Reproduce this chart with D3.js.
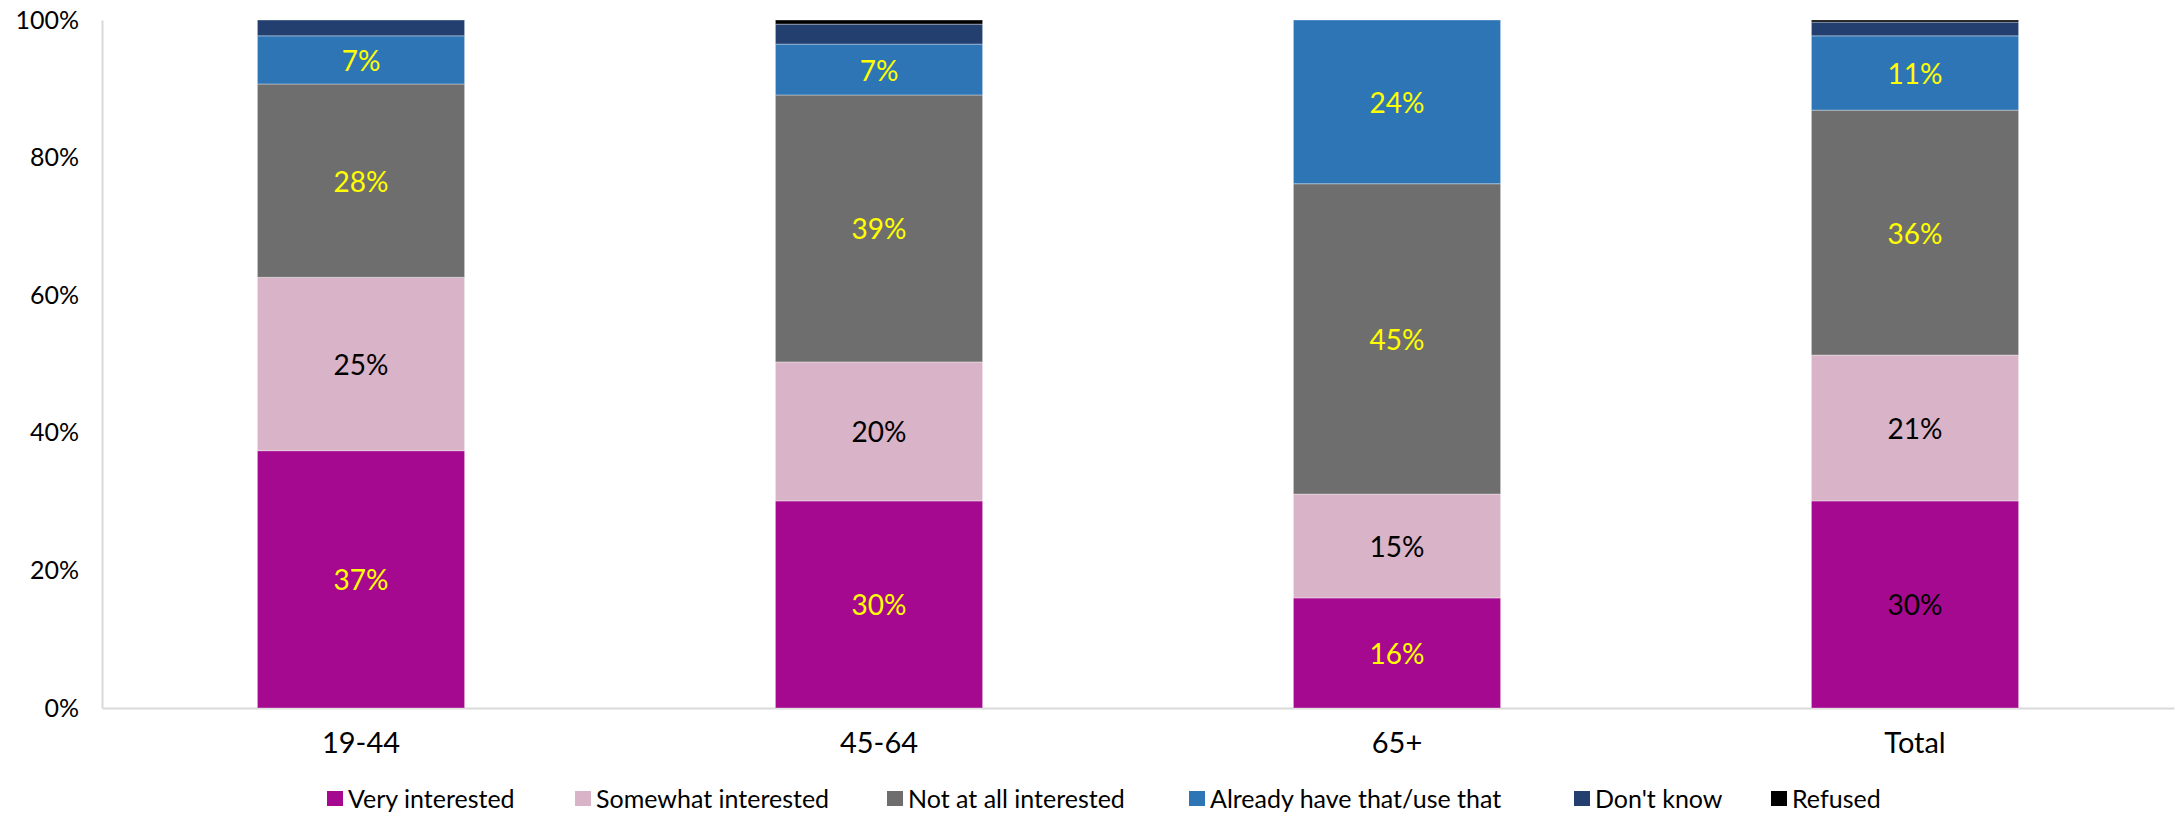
<!DOCTYPE html>
<html>
<head>
<meta charset="utf-8">
<script src="https://cdn.jsdelivr.net/npm/d3@7"></script>
<style>
    body { margin: 0; background: #ffffff; }
    svg text { font-family: Lato, "Noto Sans", sans-serif; }
</style>
</head>
<body>
<svg id="SVG_CONTAINER" width="2176" height="816"></svg>
<script>
// data (percent)
const categories = ["19-44", "45-64", "65+", "Total"];
const seriesNames = ["Very interested", "Somewhat interested", "Not at all interested",
    "Already have that/use that", "Don't know", "Refused"];
const veryInterested     = [37.4, 30.1, 16.0, 30.1];
const somewhatInterested = [25.2, 20.2, 15.1, 21.2];
const notAtAll           = [28.1, 38.8, 45.1, 35.6];
const alreadyHave        = [7.0, 7.4, 23.8, 10.8];
const dontKnow           = [2.3, 2.9, 0.0, 2.0];
const refused            = [0.0, 0.6, 0.0, 0.3];
const yTicks = [0, 20, 40, 60, 80, 100];

const MARGIN = { LEFT: 102, RIGHT: 2, TOP: 20, BOTTOM: 108 };
const width = 2176, height = 816;

const colours = ["#A5098F", "#D9B3C7", "#6E6E6E", "#2E75B6", "#223F70", "#000000"];
// label colour per series and category (null = no label)
const labelColours = [
    ["#FFFF00", "#FFFF00", "#FFFF00", "#000000"],
    ["#000000", "#000000", "#000000", "#000000"],
    ["#FFFF00", "#FFFF00", "#FFFF00", "#FFFF00"],
    ["#FFFF00", "#FFFF00", "#FFFF00", "#FFFF00"],
    null,
    null
];

let svg = d3.select("#SVG_CONTAINER");

let table = categories.map(function (c, i) {
    return {
        category: c,
        "Very interested": veryInterested[i],
        "Somewhat interested": somewhatInterested[i],
        "Not at all interested": notAtAll[i],
        "Already have that/use that": alreadyHave[i],
        "Don't know": dontKnow[i],
        "Refused": refused[i]
    };
});

let stacked = d3.stack().keys(seriesNames)(table);

//** SCALES *****************************************
let xScale = d3.scaleBand()
    .domain(categories)
    .range([MARGIN.LEFT, width - MARGIN.RIGHT])
    .paddingInner(0.6)
    .paddingOuter(0.3);

let yScale = d3.scaleLinear()
    .domain([0, 100])
    .range([height - MARGIN.BOTTOM, MARGIN.TOP]);

let colour = d3.scaleOrdinal().domain(seriesNames).range(colours);

//** AXES *****************************************
let yAxis = d3.axisLeft(yScale)
    .tickValues(yTicks)
    .tickSize(0)
    .tickPadding(23)
    .tickFormat(d => d + "%");

let yG = svg.append("g")
    .attr("class", "y_axis")
    .attr("transform", "translate(" + MARGIN.LEFT + ",0)")
    .call(yAxis);
yG.select(".domain").attr("stroke", "#d9d9d9").attr("stroke-width", 2);
yG.selectAll("text").attr("font-size", 25).attr("fill", "#000");

let xAxis = d3.axisBottom(xScale).tickSize(0).tickPadding(24);
let xG = svg.append("g")
    .attr("class", "x_axis")
    .attr("transform", "translate(0," + (height - MARGIN.BOTTOM) + ")")
    .call(xAxis);
xG.select(".domain").attr("stroke", "#d9d9d9").attr("stroke-width", 2);
xG.selectAll("text").attr("font-size", 29).attr("fill", "#000").attr("dy", "0.71em");

//** BARS *****************************************
let chart = svg.append("g").attr("class", "bars");

let layers = chart.selectAll("g.layer")
    .data(stacked)
    .enter()
    .append("g")
    .attr("class", "layer")
    .attr("fill", d => colour(d.key));

layers.selectAll("rect")
    .data(d => d)
    .enter()
    .append("rect")
    .attr("x", d => xScale(d.data.category))
    .attr("width", xScale.bandwidth())
    .attr("y", d => yScale(d[1]))
    .attr("height", d => yScale(d[0]) - yScale(d[1]))
    .attr("stroke", "rgba(255,255,255,0.35)")
    .attr("stroke-width", 1);

// data labels
stacked.forEach(function (layer, si) {
    if (!labelColours[si]) return;
    chart.append("g")
        .attr("class", "labels")
        .selectAll("text")
        .data(layer)
        .enter()
        .append("text")
        .attr("x", d => xScale(d.data.category) + xScale.bandwidth() / 2)
        .attr("y", d => (yScale(d[0]) + yScale(d[1])) / 2)
        .attr("text-anchor", "middle")
        .attr("dominant-baseline", "central")
        .attr("font-size", 28)
        .attr("fill", (d, i) => labelColours[si][i])
        .text(d => Math.round(d[1] - d[0]) + "%");
});

//** LEGEND *****************************************
// left edge of each legend swatch
const legendX = [327, 575, 887, 1189, 1574, 1771];
let legend = svg.append("g").attr("class", "legend");
let legendY = 798;
let items = legend.selectAll("g.item")
    .data(seriesNames)
    .enter()
    .append("g")
    .attr("class", "item")
    .attr("transform", (d, i) => "translate(" + legendX[i] + ",0)");

items.append("rect")
    .attr("x", 0)
    .attr("y", legendY - 7)
    .attr("width", 16)
    .attr("height", 15)
    .attr("fill", d => colour(d));

items.append("text")
    .attr("x", 21)
    .attr("y", legendY)
    .attr("dominant-baseline", "central")
    .attr("font-size", 25)
    .attr("fill", "#000")
    .text(d => d);
</script>
</body>
</html>
